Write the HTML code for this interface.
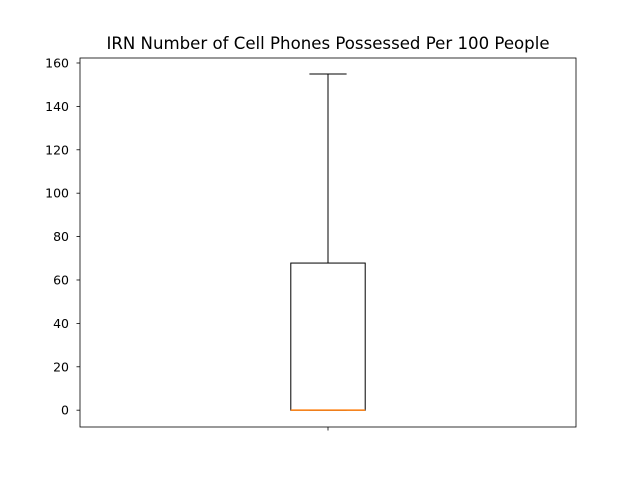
<!DOCTYPE html>
<html><head><meta charset="utf-8"><style>
body{margin:0;background:#fff;}
svg text{font-family:"DejaVu Sans","Liberation Sans",sans-serif;}
</style></head><body>
<svg id="chart" width="640" height="480" viewBox="0 0 640 480">
<rect width="640" height="480" fill="#fff"/>
<text x="328" y="49" text-anchor="middle" font-size="16.6">IRN Number of Cell Phones Possessed Per 100 People</text>
<g id="plot"></g>
</svg>
<script>
const categories = ["IRN"];
const whiskerLow = [0];
const q1Values = [0];
const medianValues = [0];
const q3Values = [67.8];
const whiskerHigh = [154.9];
const yTicks = [0, 20, 40, 60, 80, 100, 120, 140, 160];

const L=80,R=576,T=58,B=427;
const yMin=-7.75,yMax=162.3;
const xMin=0.5,xMax=1.5;
const ys=v=>B-(v-yMin)/(yMax-yMin)*(B-T);
const xs=v=>L+(v-xMin)/(xMax-xMin)*(R-L);
const g=document.getElementById('plot');
const NS="http://www.w3.org/2000/svg";
function mk(tag,attrs,parent){const e=document.createElementNS(NS,tag);for(const k in attrs)e.setAttribute(k,attrs[k]);(parent||g).appendChild(e);return e;}

yTicks.forEach(t=>{
  const y=ys(t);
  const tk=mk('line',{x1:L-3.5,x2:L,y1:y,y2:y,stroke:'#000','stroke-width':0.8});
  
  
  const tx=mk('text',{x:L-11,y:y+4.5,'text-anchor':'end','font-size':12.5});
  tx.textContent=t;
  
  
});

categories.forEach((c,i)=>{
  const cx=xs(i+1), hw=(xs(1.075)-xs(0.925))/2, cw=hw/2;
  const grp=mk('g',{});
  
  
  const xt=mk('line',{x1:cx,x2:cx,y1:B,y2:B+3.5,stroke:'#000','stroke-width':0.8});
  
  
  const wl=mk('line',{x1:cx,x2:cx,y1:ys(q3Values[i]),y2:ys(whiskerHigh[i]),stroke:'#000'},grp);
  
  
  const wl2=mk('line',{x1:cx,x2:cx,y1:ys(q1Values[i]),y2:ys(whiskerLow[i]),stroke:'#000'},grp);
  
  
  const cap=mk('line',{x1:cx-cw,x2:cx+cw,y1:ys(whiskerHigh[i]),y2:ys(whiskerHigh[i]),stroke:'#000'},grp);
  
  
  const cap2=mk('line',{x1:cx-cw,x2:cx+cw,y1:ys(whiskerLow[i]),y2:ys(whiskerLow[i]),stroke:'#000'},grp);
  
  
  const bx=mk('rect',{x:cx-hw,y:ys(q3Values[i]),width:2*hw,height:ys(q1Values[i])-ys(q3Values[i]),fill:'none',stroke:'#000'},grp);
  
  
  const md=mk('line',{x1:cx-hw,x2:cx+hw,y1:ys(medianValues[i]),y2:ys(medianValues[i]),stroke:'#ff7f0e','stroke-width':1.5},grp);
  
  
});

const frame=mk('rect',{x:L,y:T,width:R-L,height:B-T,fill:'none',stroke:'#000','stroke-width':0.8});


</script>
</body></html>
